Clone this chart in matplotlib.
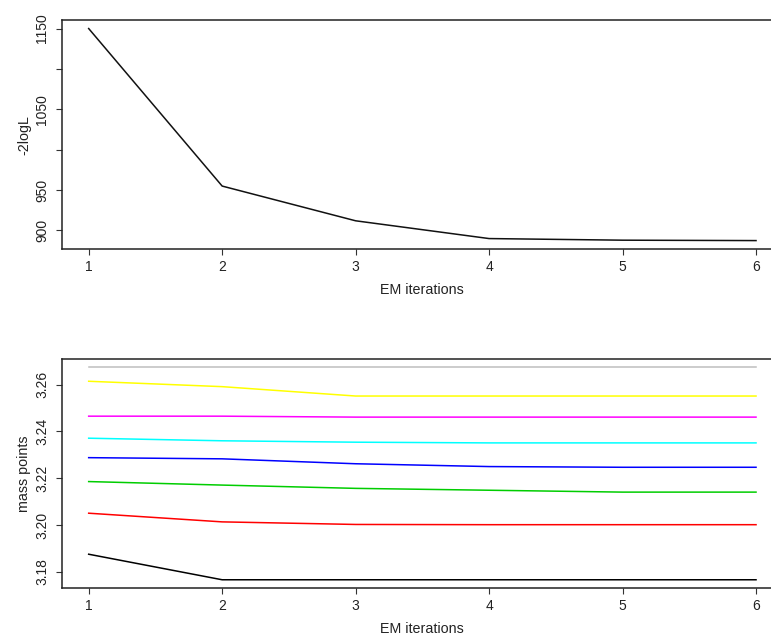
import matplotlib.pyplot as plt
import numpy as np

plt.rcParams['font.family'] = ['Liberation Sans', 'DejaVu Sans']

iters = [1, 2, 3, 4, 5, 6]

# -2 log likelihood per EM iteration
neg2logl = [1150, 955, 912, 890, 888, 887.5]

# mass point estimates per EM iteration (one list per support point)
mp_black = [3.1876, 3.1767, 3.1767, 3.1767, 3.1767, 3.1767]
mp_red = [3.2051, 3.2014, 3.2003, 3.2002, 3.2002, 3.2002]
mp_green = [3.2186, 3.2171, 3.2157, 3.2149, 3.2141, 3.2141]
mp_blue = [3.2288, 3.2283, 3.2262, 3.2250, 3.2247, 3.2247]
mp_cyan = [3.2371, 3.2360, 3.2354, 3.2351, 3.2351, 3.2351]
mp_magenta = [3.2465, 3.2465, 3.2461, 3.2461, 3.2461, 3.2461]
mp_yellow = [3.2614, 3.2591, 3.2551, 3.2551, 3.2551, 3.2551]
mp_gray = [3.2674, 3.2674, 3.2674, 3.2674, 3.2674, 3.2674]

mass_points = [mp_black, mp_red, mp_green, mp_blue, mp_cyan, mp_magenta, mp_yellow, mp_gray]
mp_colors = ['black', '#FF0000', '#00CD00', '#0000FF', '#00FFFF', '#FF00FF', '#FFFF00', '#BEBEBE']

fig = plt.figure(figsize=(7.71, 6.37), dpi=100)
ax1 = fig.add_axes([0.0804, 0.609, 0.9348, 0.3595])
ax2 = fig.add_axes([0.0804, 0.0765, 0.9348, 0.3604])


def r_limits(vals):
    lo, hi = min(vals), max(vals)
    pad = 0.04 * (hi - lo)
    return lo - pad, hi + pad


def style(ax):
    for s in ax.spines.values():
        s.set_color('#222222')
        s.set_linewidth(1.1)
    ax.set_xlim(0.8, 6.2)
    ax.set_xticks(iters)
    ax.tick_params(axis='both', direction='out', length=4.5, width=0.8,
                   color='#333333', labelsize=10, labelcolor='#222222')
    ax.tick_params(axis='x', pad=3.5)
    ax.tick_params(axis='y', labelrotation=90, pad=4.5)
    for lab in ax.get_yticklabels():
        lab.set_va('center')
    ax.set_xlabel('EM iterations', fontsize=10.3, color='#222222', labelpad=6)


ax1.plot(iters, neg2logl, color='#111111', lw=1.1)
ax1.set_ylim(*r_limits(neg2logl))
ax1.set_yticks([900, 950, 1000, 1050, 1100, 1150])
ax1.set_yticklabels(['900', '950', '', '1050', '', '1150'])
ax1.set_ylabel('-2logL', fontsize=10.3, color='#222222', labelpad=3)
style(ax1)

all_mp = [v for series in mass_points for v in series]
for series, col in zip(mass_points, mp_colors):
    ax2.plot(iters, series, color=col, lw=1.1)
ax2.set_ylim(*r_limits(all_mp))
ax2.set_yticks([3.18, 3.20, 3.22, 3.24, 3.26])
ax2.set_yticklabels(['3.18', '3.20', '3.22', '3.24', '3.26'])
ax2.set_ylabel('mass points', fontsize=10.3, color='#222222', labelpad=3)
style(ax2)

fig.savefig('out.png', dpi=100)
